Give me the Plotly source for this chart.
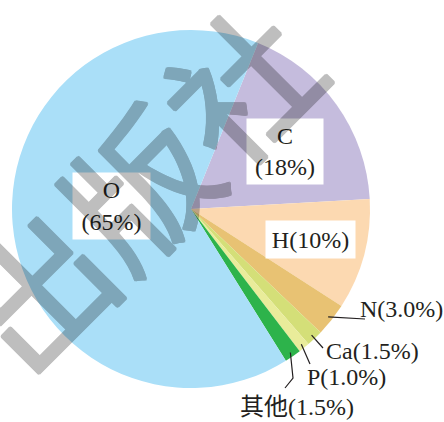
import math
import plotly.graph_objects as go

# Mass fractions of elements in the human body (%), clockwise from C
elements = ["C", "H", "N", "Ca", "P", "其他", "O"]
percents = [18, 10, 3.0, 1.5, 1.0, 1.5, 65]
percent_text = ["18%", "10%", "3.0%", "1.5%", "1.0%", "1.5%", "65%"]
colors = ["#c5bcdd", "#fcd9b1", "#e8c273", "#d4df78", "#e9ec9a", "#2db34b", "#aadff8"]

W, H = 444, 422
CX, CY, R = 191, 209, 179          # pie centre and radius in pixels
START_ANGLE = 22                    # first slice starts this many degrees past 12 o'clock
SERIF = "Liberation Serif, Times New Roman, Noto Sans CJK SC, serif"
TEXT_SIZE = 24


def px(x):
    return x / W


def py(y):
    return 1 - y / H


fig = go.Figure(go.Pie(
    labels=elements,
    values=percents,
    sort=False,
    direction="clockwise",
    rotation=START_ANGLE,
    marker=dict(colors=colors, line=dict(width=0)),
    textinfo="none",
    hoverinfo="label+percent",
    showlegend=False,
    domain=dict(x=[px(CX - R), px(CX + R)], y=[py(CY + R), py(CY - R)]),
))

# mid-angle of every slice (degrees clockwise from 12 o'clock)
total = sum(percents)
mid_angle = {}
acc = START_ANGLE
for name, v in zip(elements, percents):
    mid_angle[name] = acc + 360 * v / total / 2
    acc += 360 * v / total


def on_slice(name, frac=0.975):
    a = math.radians(mid_angle[name])
    return CX + frac * R * math.sin(a), CY - frac * R * math.cos(a)


label = dict(zip(elements, percent_text))
annotations = []
shapes = []

# boxed labels inside the large slices
boxed = [
    ("O", "O<br>(" + label["O"] + ")", 112, 206, 75, 64),
    ("C", "C<br>(" + label["C"] + ")", 285, 151, 74, 63),
    ("H", "H(" + label["H"] + ")", 310, 239, 87, 35),
]
for name, txt, x, y, w, h in boxed:
    annotations.append(dict(
        x=px(x), y=py(y), xref="paper", yref="paper", text=txt,
        showarrow=False, bgcolor="white", width=w, height=h,
        font=dict(family=SERIF, size=TEXT_SIZE, color="#231f20"),
        align="center", xanchor="center", yanchor="middle",
    ))

# outside labels with leader lines for the small slices
outside = [
    # name, leader path after the slice point, text anchor (x, y)
    ("N", [(365, 319)], (358, 309)),
    ("Ca", [(323, 348)], (324, 351)),
    ("P", [(310, 364)], (305, 377)),
    ("其他", [(293, 378), (285, 388)], (238, 407)),
]
for name, path, (tx, ty) in outside:
    pts = [on_slice(name)] + path
    d = "M " + " L ".join(f"{px(x)},{py(y)}" for x, y in pts)
    shapes.append(dict(type="path", path=d, xref="paper", yref="paper",
                       line=dict(color="#231f20", width=1.2), layer="above"))
    annotations.append(dict(
        x=px(tx), y=py(ty), xref="paper", yref="paper",
        text=name + "(" + label[name] + ")", showarrow=False,
        font=dict(family=SERIF, size=TEXT_SIZE, color="#231f20"),
        xanchor="left", yanchor="middle",
    ))

# publisher watermark across the chart: opaque glyphs thickened with a
# shadow outline, then faded as one group so overlaps stay even
outline = ", ".join(f"{dx}px {dy}px 0 black" for dx, dy in
                    [(1.5, 0), (-1.5, 0), (0, 1.5), (0, -1.5),
                     (1, 1), (-1, -1), (1, -1), (-1, 1)])
annotations.append(dict(
    x=px(135), y=py(184), xref="paper", yref="paper", text="出版社",
    showarrow=False, textangle=-45, opacity=0.25,
    font=dict(family="Noto Sans CJK SC", size=145, color="black",
              shadow=outline),
    xanchor="center", yanchor="middle",
))

fig.update_layout(
    width=W, height=H,
    margin=dict(l=0, r=0, t=0, b=0),
    paper_bgcolor="white", plot_bgcolor="white",
    annotations=annotations, shapes=shapes,
)

fig.write_html("out.html")
